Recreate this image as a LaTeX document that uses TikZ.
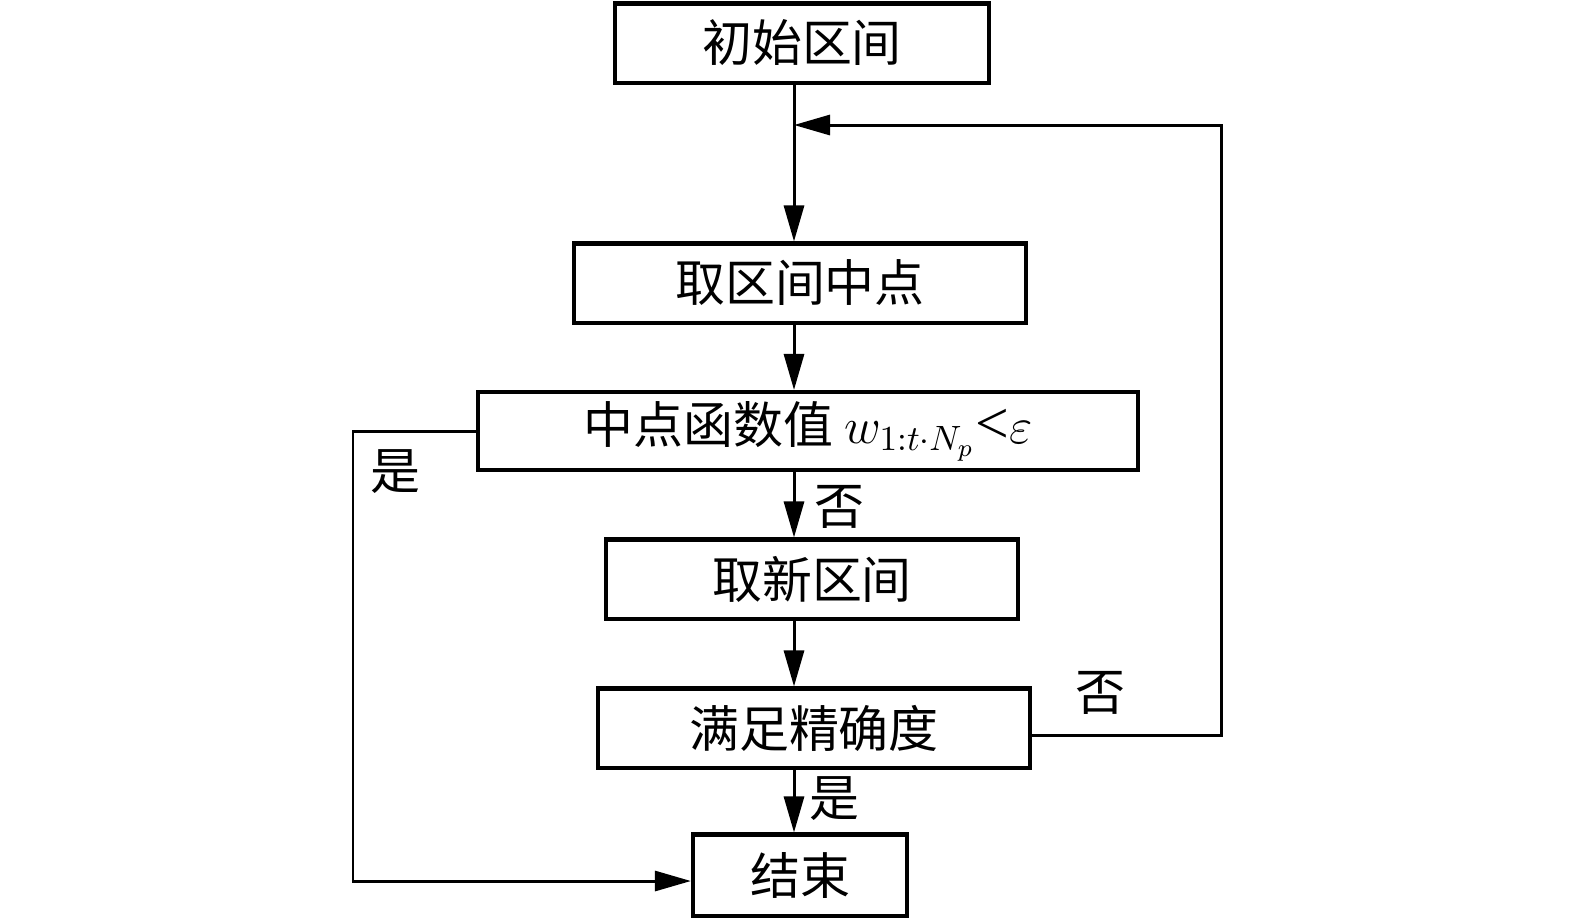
\documentclass[tikz,border=0pt]{standalone}
\usepackage{fontspec}
\setmainfont{Liberation Serif}
\newfontfamily\cjk{Noto Sans CJK SC}
\usetikzlibrary{arrows.meta}
\tikzset{
  procbox/.style={draw, line width=1.15pt, minimum height=0.79cm, inner sep=0pt},
  flow/.style={line width=0.85pt, -{Triangle[length=0.36cm,width=0.2cm]}},
  tag/.style={inner sep=0pt}
}
\begin{document}
\begin{tikzpicture}[x=0.01cm, y=-0.01cm, font=\cjk\fontsize{14.2}{17}\selectfont]
  \useasboundingbox (0,0) rectangle (1575,920);
  % Boxes, top to bottom
  \node[procbox, minimum width=3.74cm] (init) at (802,43) {初始区间};
  \node[procbox, minimum width=4.51cm] (mid) at (800,283) {取区间中点};
  \node[procbox, minimum width=6.59cm, minimum height=0.78cm] (check) at (808,431) {中点函数值 $w_{1:t\cdot N_p}${\rmfamily\fontsize{17}{17}\selectfont <}$\varepsilon$};
  \node[procbox, minimum width=4.12cm] (newint) at (812,579) {取新区间};
  \node[procbox, minimum width=4.32cm] (prec) at (814,728) {满足精确度};
  \node[procbox, minimum width=2.14cm, minimum height=0.81cm] (stop) at (800,875) {结束};

  % Main column
  \coordinate (col) at (794,0);
  \coordinate (join) at (794,125);
  \draw[flow] (init.south -| col) -- (mid.north -| col);
  \draw[flow] (mid.south -| col) -- (check.north -| col);
  \draw[flow] (check.south -| col) -- (newint.north -| col);
  \draw[flow] (newint.south -| col) -- (prec.north -| col);
  \draw[flow] (prec.south -| col) -- (stop.north -| col);

  % Feedback loop on the right
  \draw[flow] (prec.east |- 0,735) -| (1221,125) -- (join);

  % Exit on the left
  \draw[flow] (check.west) -| (353,881) -- (stop.west |- 0,881);

  % Branch labels
  \node[tag] (yes1) at (395,472) {是};
  \node[tag] (no1) at (839,507) {否};
  \node[tag] (no2) at (1100,693) {否};
  \node[tag] (yes2) at (834,799) {是};
\end{tikzpicture}
\end{document}
